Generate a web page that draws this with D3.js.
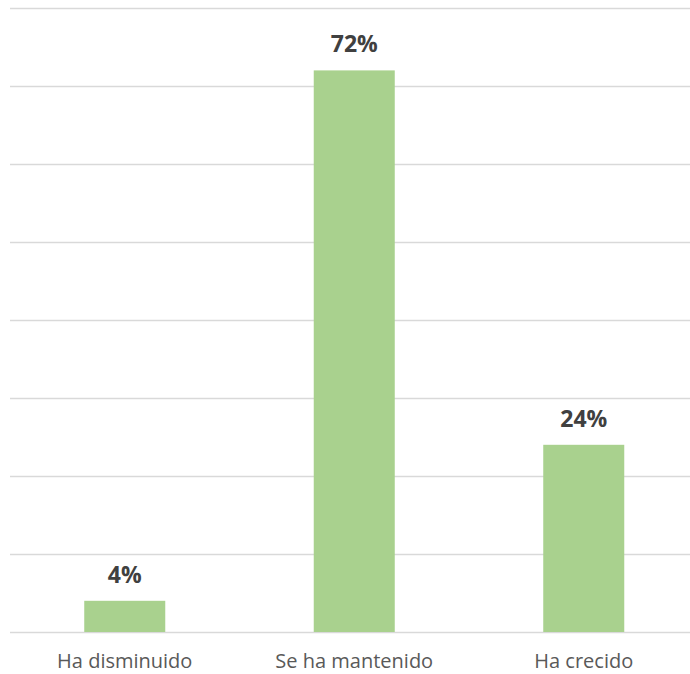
<!DOCTYPE html>
<html><head><meta charset="utf-8">
<script src="https://cdn.jsdelivr.net/npm/d3@7"></script>
<style>body{margin:0;background:#fff;}svg{display:block;}</style>
</head><body>
<svg id="c" width="690" height="674"></svg>
<script>
const categories = ["Ha disminuido", "Se ha mantenido", "Ha crecido"];
const values = [4, 72, 24];
const labels = ["4%", "72%", "24%"];
const gridTicks = [0, 10, 20, 30, 40, 50, 60, 70, 80];

const svg = d3.select("#c");
const x = d3.scaleBand().domain(categories).range([10, 698.5]).paddingInner(0.647).paddingOuter(0.3235);
const y = d3.scaleLinear().domain([0, 80]).range([632, 8]);

svg.append("g").selectAll("line").data(gridTicks).join("line")
  .attr("x1", 10).attr("x2", 690)
  .attr("y1", d => Math.round(y(d)) + 0.5).attr("y2", d => Math.round(y(d)) + 0.5)
  .attr("stroke", "#d9d9d9").attr("stroke-width", 1.5);

svg.append("g").selectAll("rect").data(values).join("rect")
  .attr("x", (d, i) => x(categories[i])).attr("width", x.bandwidth())
  .attr("y", d => y(d)).attr("height", d => y(0) - y(d))
  .attr("fill", "#a9d18e");

svg.append("g").selectAll("text").data(values).join("text")
  .attr("x", (d, i) => x(categories[i]) + x.bandwidth() / 2)
  .attr("y", d => y(d) - 18)
  .attr("text-anchor", "middle")
  .attr("font-family", "'Open Sans', sans-serif")
  .attr("font-weight", "bold").attr("font-size", 23)
  .attr("fill", "#404040")
  .text((d, i) => labels[i]);

svg.append("g").selectAll("text").data(categories).join("text")
  .attr("x", d => x(d) + x.bandwidth() / 2)
  .attr("y", 668)
  .attr("text-anchor", "middle")
  .attr("font-family", "'Open Sans', sans-serif")
  .attr("font-size", 20)
  .attr("fill", "#595959")
  .text(d => d);
</script>
</body></html>
